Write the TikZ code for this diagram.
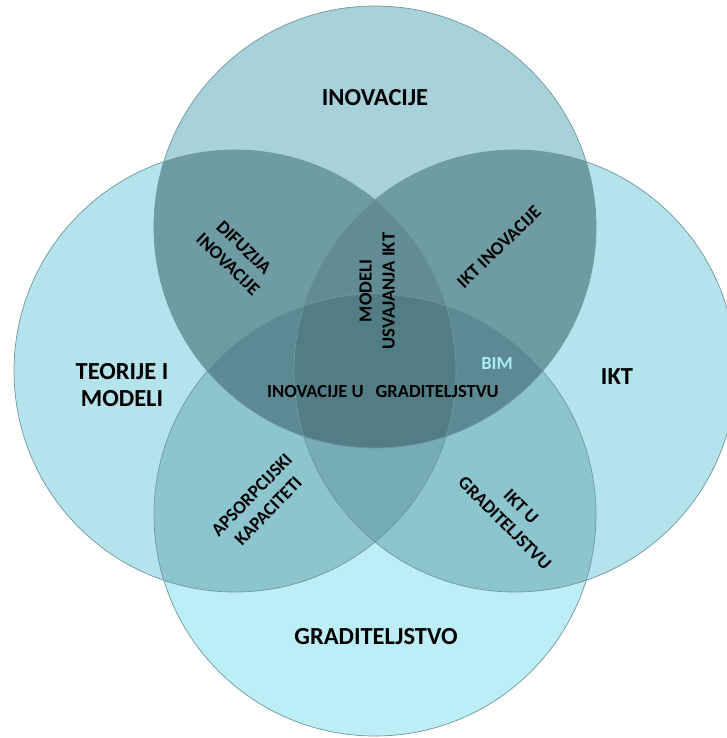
\documentclass[tikz,border=0pt]{standalone}
\usepackage{fontspec}
\setmainfont{Carlito}
\tikzset{
  biglbl/.style={font=\bfseries\fontsize{24.5}{27}\selectfont, align=center, inner sep=0pt},
  smalllbl/.style={font=\bfseries\fontsize{18.5}{23}\selectfont, align=center, inner sep=0pt},
  rim/.style={draw=rimcol, line width=0.7pt}
}
\begin{document}
\begin{tikzpicture}[x=1pt,y=-1pt]
\def\rad{221pt}
\definecolor{cT}{RGB}{168,210,218}
\definecolor{cS}{RGB}{180,227,235}
\definecolor{cB}{RGB}{189,238,246}
\definecolor{cTS}{RGB}{111,155,163}
\definecolor{cBS}{RGB}{141,197,207}
\definecolor{cTLR}{RGB}{97,140,148}
\definecolor{cBLR}{RGB}{118,172,182}
\definecolor{cTB}{RGB}{93,138,146}
\definecolor{cQ}{RGB}{82,125,133}
\definecolor{rimcol}{RGB}{112,150,158}
\definecolor{bimcol}{RGB}{168,236,246}
\useasboundingbox (0,0) rectangle (727,738);
\clip (0,0) rectangle (727,738);
\coordinate (T) at (375,227);
\coordinate (B) at (375,515);
\coordinate (L) at (235,371);
\coordinate (R) at (515,371);
\fill[cS] (L) circle (\rad);
\fill[cS] (R) circle (\rad);
\fill[cB] (B) circle (\rad);
\fill[cT] (T) circle (\rad);
\begin{scope}
  \clip (T) circle (\rad);
  \fill[cTS] (L) circle (\rad) (R) circle (\rad);
\end{scope}
\begin{scope}
  \clip (B) circle (\rad);
  \fill[cBS] (L) circle (\rad);
  \fill[cBS] (R) circle (\rad);
\end{scope}
\begin{scope}
  \clip (T) circle (\rad);
  \clip (B) circle (\rad);
  \fill[cTB] (L) circle (\rad);
  \fill[cTB] (R) circle (\rad);
\end{scope}
\begin{scope}
  \clip (L) circle (\rad);
  \clip (R) circle (\rad);
  \fill[cTLR] (T) circle (\rad);
  \fill[cBLR] (B) circle (\rad);
  \clip (T) circle (\rad);
  \fill[cQ] (B) circle (\rad);
\end{scope}
\foreach \c in {L,R,B,T} \draw[rim] (\c) circle (\rad);
\node[biglbl] (inov) at (375,98) {INOVACIJE};
\node[biglbl] (teor) at (122,385) {TEORIJE I\\MODELI};
\node[biglbl] (ikt) at (617,377) {IKT};
\node[biglbl] (grad) at (376,637) {GRADITELJSTVO};
\node[smalllbl, rotate=-44] (difuz) at (236,256) {DIFUZIJA\\INOVACIJE};
\node[smalllbl, rotate=44] (iktinov) at (499,247) {IKT INOVACIJE};
\node[smalllbl, rotate=90] (modeli) at (377,291) {MODELI\\USVAJANJA IKT};
\node[smalllbl, text=bimcol] (bim) at (497,363) {BIM};
\node[smalllbl] (inovgrad) at (383,391) {INOVACIJE U\hspace{12pt}GRADITELJSTVU};
\node[smalllbl, rotate=46] (apsorp) at (260,503) {APSORPCIJSKI\\KAPACITETI};
\node[smalllbl, rotate=-45] (iktgrad) at (513,515) {IKT U\\GRADITELJSTVU};
\end{tikzpicture}
\end{document}
